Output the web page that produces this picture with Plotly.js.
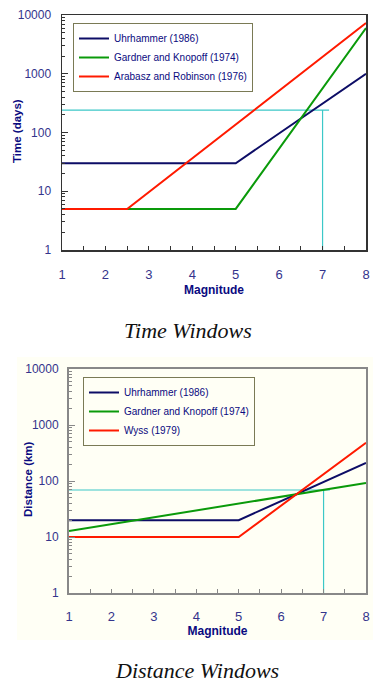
<!DOCTYPE html>
<html><head><meta charset="utf-8">
<script src="https://cdn.plot.ly/plotly-3.0.1.min.js"></script>
<style>html,body{margin:0;padding:0;background:#fff}#chart{width:373px;height:686px}</style>
</head><body><div id="chart"></div>
<script>
// ---- data ----
const timeUhrM = [1, 5, 8];
const timeUhrV = [30, 30, 1000];
const timeGKM = [1, 5, 8];
const timeGKV = [5, 5, 6000];
const timeABM = [1, 2.5, 8];
const timeABV = [5, 5, 7300];
const timeRefM = [1, 7.15, 7, 7];
const timeRefV = [240, 240, 240, 1];

const distUhrM = [1, 5, 8];
const distUhrV = [20, 20, 210];
const distGKM = [1, 8];
const distGKV = [12.8, 92];
const distWyssM = [1, 5, 8];
const distWyssV = [10, 10, 480];
const distRefM = [1, 7.15, 7, 7];
const distRefV = [69, 69, 69, 1];

const xTicks = [1, 2, 3, 4, 5, 6, 7, 8];
const yTicks = [1, 10, 100, 1000, 10000];
const yTickText = ['1', '10', '100', '1000', '10000'];

// ---- styles ----
const NAVY = '#0d0d66', GREEN = '#0a9a0a', RED = '#ff1a00', CYAN = '#3cc8c8';
const FONT = 'Liberation Sans Narrow, Arial Narrow, Liberation Sans, Arial, sans-serif';
const TICKC = '#34348c', TITLEC = '#0a0a80';
const W = 373, H = 686;

function line(x, y, name, color, xa, ya, leg, show) {
  return {x, y, name, type: 'scatter', mode: 'lines', xaxis: xa, yaxis: ya,
    legend: leg, showlegend: show, line: {color, width: 2}, hoverinfo: 'skip'};
}
const traces = [
  line(timeRefM, timeRefV, 'ref', CYAN, 'x', 'y', 'legend', false),
  line(timeUhrM, timeUhrV, 'Uhrhammer (1986)', NAVY, 'x', 'y', 'legend', true),
  line(timeGKM, timeGKV, 'Gardner and Knopoff (1974)', GREEN, 'x', 'y', 'legend', true),
  line(timeABM, timeABV, 'Arabasz and Robinson (1976)', RED, 'x', 'y', 'legend', true),
  line(distRefM, distRefV, 'ref', CYAN, 'x2', 'y2', 'legend2', false),
  line(distUhrM, distUhrV, 'Uhrhammer (1986)', NAVY, 'x2', 'y2', 'legend2', true),
  line(distGKM, distGKV, 'Gardner and Knopoff (1974)', GREEN, 'x2', 'y2', 'legend2', true),
  line(distWyssM, distWyssV, 'Wyss (1979)', RED, 'x2', 'y2', 'legend2', true),
];
traces[0].line.width = 1.2; traces[4].line.width = 1.2;

function xax(domain, anchor, lc, lw, stand, tstand) {
  return {domain, anchor, range: [1, 8], tickvals: xTicks, ticktext: xTicks.map(String),
    ticks: 'inside', ticklen: 4, tickcolor: lc, tickwidth: 1,
    minor: {dtick: 0.5, tick0: 1, ticks: 'inside', ticklen: 4, tickcolor: lc, showgrid: false},
    showline: true, linecolor: lc, linewidth: lw, mirror: true, showgrid: false, zeroline: false,
    tickfont: {family: FONT, size: 13, color: TICKC}, ticklabelstandoff: stand,
    title: {text: '<b>Magnitude</b>', font: {family: FONT, size: 12, color: TITLEC}, standoff: tstand},
    fixedrange: true};
}
function yax(domain, anchor, lc, lw, stand) {
  return {domain, anchor, type: 'log', range: [0, 4], tickvals: yTicks, ticktext: yTickText,
    ticks: 'inside', ticklen: 6, tickcolor: lc, tickwidth: 1,
    minor: {ticks: 'inside', ticklen: 3, tickcolor: lc, showgrid: false, dtick: 'D1'},
    showline: true, linecolor: lc, linewidth: lw, mirror: true, showgrid: false, zeroline: false,
    tickfont: {family: FONT, size: 12, color: TICKC}, ticklabelstandoff: stand,
    fixedrange: true};
}

const legendBase = {xanchor: 'left', yanchor: 'top', bordercolor: '#7a7a55', borderwidth: 1,
  font: {family: FONT, size: 10, color: TITLEC}, tracegroupgap: 0};

const ytitleFont = {family: FONT, size: 11.5, color: TITLEC};
const layout = {
  width: W, height: H, margin: {l: 0, r: 0, t: 0, b: 0},
  paper_bgcolor: '#ffffff', plot_bgcolor: 'rgba(0,0,0,0)',
  showlegend: true,
  xaxis: xax([62 / W, 366 / W], 'y', '#333333', 1.5, 12, 4),
  yaxis: yax([1 - 250 / H, 1 - 15 / H], 'x', '#333333', 1.5, 7),
  xaxis2: xax([69 / W, 366 / W], 'y2', '#888888', 2, 10, 0),
  yaxis2: yax([1 - 593 / H, 1 - 369 / H], 'x2', '#888888', 2, 6),
  legend: Object.assign({}, legendBase, {x: 73 / W, y: 1 - 23 / H, bgcolor: '#ffffff'}),
  legend2: Object.assign({}, legendBase, {x: 83 / W, y: 1 - 377 / H, bgcolor: '#fffff5'}),
  shapes: [
    {type: 'rect', xref: 'paper', yref: 'paper', x0: 17 / W, x1: 1, y0: 1 - 640 / H, y1: 1 - 357 / H,
      fillcolor: '#fffff5', line: {width: 0}, layer: 'below'}
  ],
  annotations: [
    {text: '<b>Time (days)</b>', xref: 'paper', yref: 'paper', x: 17 / W, y: 1 - 131 / H,
      xanchor: 'center', yanchor: 'middle', textangle: -90, showarrow: false, font: ytitleFont},
    {text: '<b>Distance (km)</b>', xref: 'paper', yref: 'paper', x: 28 / W, y: 1 - 479 / H,
      xanchor: 'center', yanchor: 'middle', textangle: -90, showarrow: false, font: ytitleFont},
    {text: '<i>Time Windows</i>', xref: 'paper', yref: 'paper', x: 188 / W, y: 1 - 330 / H,
      xanchor: 'center', yanchor: 'middle', showarrow: false, font: {family: 'Liberation Serif, Times New Roman, serif', size: 22, color: '#111'}},
    {text: '<i>Distance Windows</i>', xref: 'paper', yref: 'paper', x: 197 / W, y: 1 - 670 / H,
      xanchor: 'center', yanchor: 'middle', showarrow: false, font: {family: 'Liberation Serif, Times New Roman, serif', size: 22, color: '#111'}}
  ]
};

Plotly.newPlot('chart', traces, layout, {displayModeBar: false, staticPlot: true});
</script></body></html>
